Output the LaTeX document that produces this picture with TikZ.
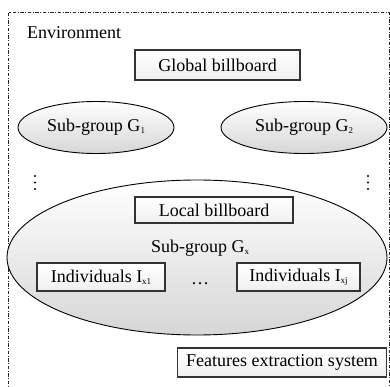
\documentclass[tikz,border=0pt]{standalone}
\usepackage{fontspec}
\setmainfont{Liberation Serif}
\usetikzlibrary{shapes.geometric}
\newcommand{\subt}[1]{\raisebox{-0.25ex}{\fontsize{9}{10}\selectfont #1}}
\begin{document}
\begin{tikzpicture}[x=1pt,y=-1pt,
  every node/.style={font=\fontsize{18}{20}\selectfont},
  grp/.style={draw=black, line width=0.9pt, ellipse, inner sep=0pt, top color=white, bottom color=gray!32},
  bbox/.style={draw=black!80, line width=1.1pt, rectangle, inner sep=0pt, top color=white, bottom color=gray!12},
  envborder/.style={draw=black!85, line width=1pt, dash pattern=on 3.5pt off 1.5pt on 1pt off 1.5pt},
  lbl/.style={inner sep=0pt},
  dotmark/.style={fill=black}]
\useasboundingbox (0,0) rectangle (390,387);
\draw[envborder] (8.5,13) rectangle (389,394);
\node[lbl, anchor=west] (env) at (27,33) {Environment};
\node[bbox, minimum width=165pt, minimum height=30pt] (gb) at (217.5,65) {Global billboard};
\node[grp, minimum width=156pt, minimum height=52pt] (g1) at (96,127.5) {Sub-group G\subt{1}};
\node[grp, minimum width=166pt, minimum height=52pt] (g2) at (304,127.5) {Sub-group G\subt{2}};
\foreach \yy in {176,182.5,189} {
  \fill[dotmark] (35,\yy) circle (1.2pt);
  \fill[dotmark] (368,\yy) circle (1.2pt);
}
\node[grp, minimum width=380pt, minimum height=155pt] (gx) at (197,257.5) {};
\node[bbox, minimum width=158pt, minimum height=26pt] (lb) at (214,210) {Local billboard};
\node[lbl] (gxl) at (200,248) {Sub-group G\subt{x}};
\node[lbl, anchor=base] (dots) at (200,284) {…};
\node[bbox, minimum width=128pt, minimum height=28pt] (i1) at (101,277) {Individuals I\subt{x1}};
\node[bbox, minimum width=123pt, minimum height=28pt] (ij) at (298.5,277) {Individuals I\subt{xj}};
\node[bbox, minimum width=209pt, minimum height=29pt] (fe) at (282,362.5) {Features extraction system};
\end{tikzpicture}
\end{document}
